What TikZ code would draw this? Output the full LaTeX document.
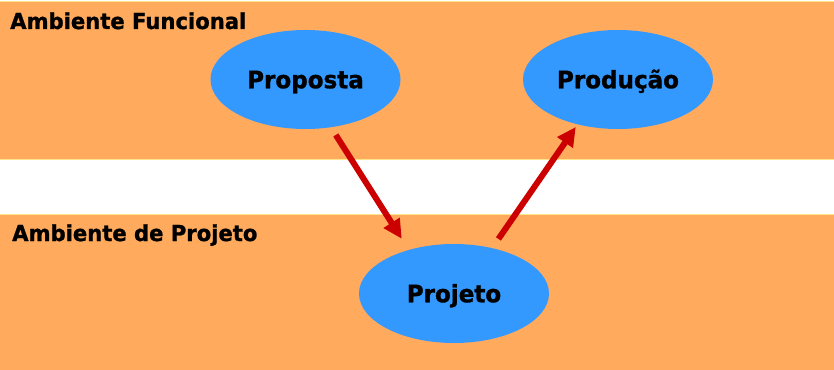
\documentclass[tikz,border=0pt]{standalone}
\usepackage{fontspec}
\setmainfont{DejaVu Sans}[BoldFeatures={FakeBold=1.2,FakeStretch=0.96}]
\usetikzlibrary{arrows.meta,shapes.geometric}
\definecolor{bandorange}{HTML}{FFAA5C}
\definecolor{bandline}{HTML}{FFE58A}
\definecolor{nodeblue}{HTML}{3399FF}
\definecolor{arrred}{HTML}{CC0000}
\tikzset{
  band/.style={fill=bandorange, draw=bandline, line width=0.8pt},
  blob/.style={ellipse, fill=nodeblue, minimum width=190pt, minimum height=99pt, inner sep=0pt, text height=17.5pt, text depth=0pt, font=\fontsize{24}{28}\selectfont\bfseries},
  lbl/.style={anchor=base west, inner sep=0pt, font=\fontsize{22}{26}\selectfont\bfseries},
  arr/.style={draw=arrred, line width=6pt, -{Triangle[length=19pt,width=18pt]}}
}
\begin{document}
\begin{tikzpicture}[x=1pt,y=-1pt]
\useasboundingbox (0,0) rectangle (834,369);
\fill[white] (0,0) rectangle (834,369);
\draw[band] (-2,1) rectangle (836,159);
\draw[band] (-2,214) rectangle (836,371);
\node[lbl] (l1) at (10,29) {Ambiente Funcional};
\node[lbl] (l2) at (12,241) {Ambiente de Projeto};
\node[blob] (prop) at (305.5,79.5) {Proposta};
\node[blob] (prod) at (618,79.5) {Produção};
\node[blob] (proj) at (454,293.5) {Projeto};
\draw[arr, shorten <=9pt, shorten >=13pt] (prop.-62) -- (proj.136);
\draw[arr, shorten <=11pt, shorten >=3pt] (proj.50) -- (prod.228);
\end{tikzpicture}
\end{document}
